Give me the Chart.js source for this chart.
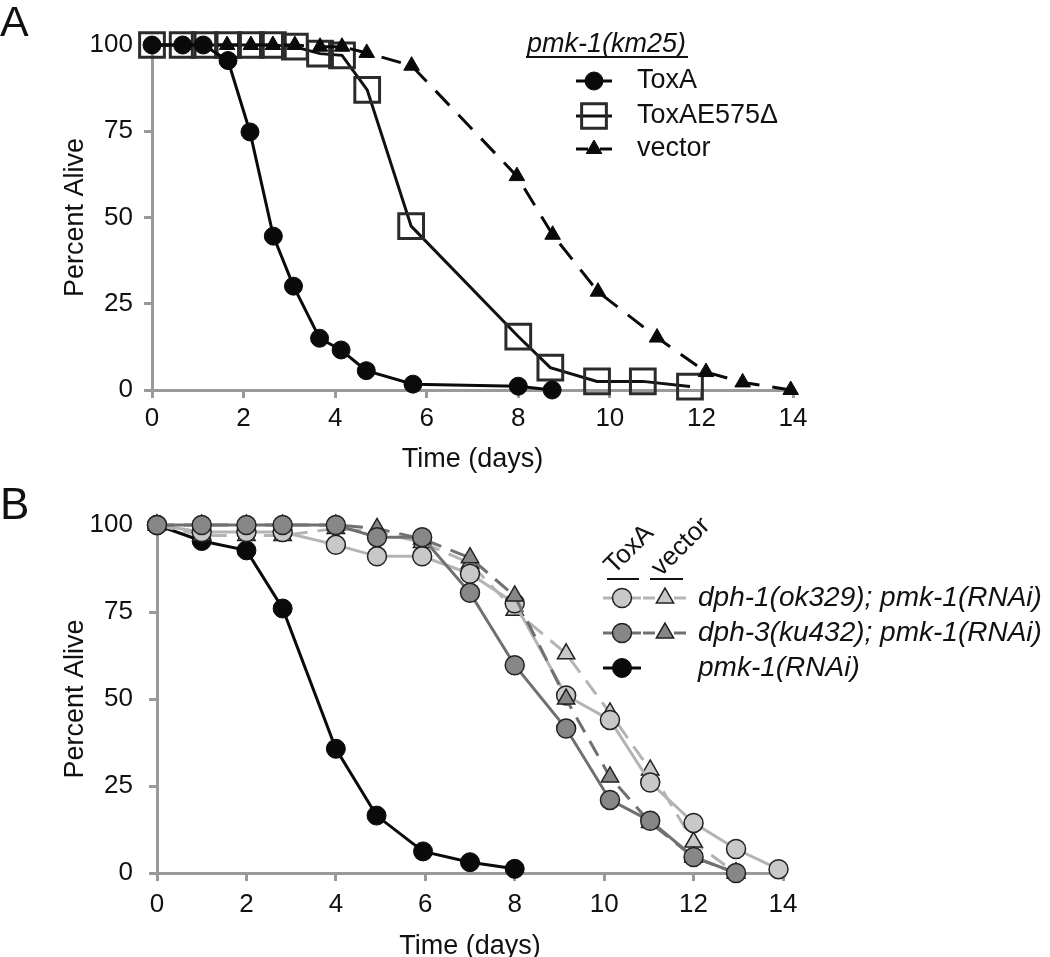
<!DOCTYPE html>
<html>
<head>
<meta charset="utf-8">
<script src="https://cdn.jsdelivr.net/npm/chart.js@4.4.1/dist/chart.umd.min.js"></script>
<style>
  body { margin: 0; background: #fff; }
  .panel { position: relative; width: 1050px; }
  canvas { display: block; }
</style>
</head>
<body>
<div class="panel"><canvas id="chartA" width="1050" height="478"></canvas></div>
<div class="panel"><canvas id="chartB" width="1050" height="479"></canvas></div>
<script>
// ---- panel A : pmk-1(km25) ----
const daysToxA = [0, 0.67, 1.12, 1.66, 2.14, 2.65, 3.09, 3.66, 4.13, 4.68, 5.7, 8.0, 8.74];
const aliveToxA = [100, 100, 100, 95.5, 74.8, 44.6, 30.1, 15, 11.6, 5.6, 1.7, 1.1, 0];
const daysToxAE575 = [0, 0.67, 1.15, 1.66, 2.16, 2.64, 3.12, 3.67, 4.15, 4.7, 5.66, 8.0, 8.7, 9.72, 10.72, 11.75];
const aliveToxAE575 = [100, 100, 100, 100, 100, 100, 99.5, 97.5, 97, 87, 47.5, 15.5, 6.5, 2.5, 2.5, 1];
const daysVectorA = [0, 0.67, 1.15, 1.64, 2.16, 2.64, 3.12, 3.67, 4.15, 4.69, 5.67, 7.97, 8.75, 9.74, 11.03, 12.1, 12.9, 13.95];
const aliveVectorA = [100, 100, 100, 100, 100, 100, 100, 99.5, 99.5, 97.7, 94, 62, 45, 28.5, 15.2, 5.2, 2.2, 0];

// ---- panel B : RNAi ----
const daysB = [0, 1, 2, 2.81, 4, 4.92, 5.93, 7, 8, 9.15, 10.13, 11.03, 12, 12.95, 13.9];
const dph1ToxA = [100, 98, 98, 98, 94.3, 91, 91, 86, 77.5, 51, 44, 26, 14.4, 6.9, 1.1];
const dph1Vector = [100, 97, 97, 97, 99, 98, 95, 89, 75.5, 63, 46, 29.6, 8.9, 0];
const dph3ToxA = [100, 100, 100, 100, 100, 96.5, 96.5, 80.5, 59.7, 41.5, 21, 15, 4.6, 0];
const dph3Vector = [100, 100, 100, 100, 100, 99, 96, 90.6, 79.6, 50, 27.6, 14.5, 4.5, 0];
const daysPmk = [0, 1, 2, 2.81, 4, 4.91, 5.95, 7, 8];
const pmk1RNAi = [100, 95.4, 92.7, 76, 35.7, 16.5, 6.2, 3.1, 1.2];

const xTicks = [0, 2, 4, 6, 8, 10, 12, 14];
const yTicks = [0, 25, 50, 75, 100];

const FONT = '"Liberation Sans", Arial, Helvetica, sans-serif';
const AXIS_GREY = '#9a9a9a';
const LIGHT_FILL = '#c8c8c8', LIGHT_LINE = '#b4b4b4';
const DARK_FILL = '#878787', DARK_LINE = '#707070';

function pts(xs, ys) {
    return ys.map((y, i) => ({ x: xs[i], y: y }));
}

function scales(opt) {
    return {
        x: {
            type: 'linear', min: 0, max: 14,
            afterFit: s => { s.height = opt.xHeight; },
            afterBuildTicks: s => { s.ticks = xTicks.map(v => ({ value: v })); },
            border: { display: true, color: AXIS_GREY, width: 3 },
            grid: { drawOnChartArea: false, drawTicks: true, tickLength: 8, color: AXIS_GREY, lineWidth: 3 },
            ticks: { color: '#111', font: { family: FONT, size: 26 }, padding: opt.xPad, maxRotation: 0 },
            title: { display: true, text: 'Time (days)', color: '#111',
                     font: { family: FONT, size: 27, lineHeight: opt.xTitleLH }, padding: { top: 0, bottom: opt.xTitlePad } }
        },
        y: {
            type: 'linear', min: 0, max: 100,
            afterFit: s => { s.width = opt.yWidth; },
            afterBuildTicks: s => { s.ticks = yTicks.map(v => ({ value: v })); },
            border: { display: true, color: AXIS_GREY, width: 3 },
            grid: { drawOnChartArea: false, drawTicks: true, tickLength: 8, color: AXIS_GREY, lineWidth: 3 },
            ticks: { color: '#111', font: { family: FONT, size: 26 }, padding: opt.yPad },
            title: { display: true, text: 'Percent Alive', color: '#111',
                     font: { family: FONT, size: 27, lineHeight: 1.2 }, padding: { top: 59, bottom: 0 } }
        }
    };
}

function legendRow(ctx, ds, x0, x1, cx, y) {
    ctx.save();
    ctx.strokeStyle = ds.borderColor;
    ctx.lineWidth = ds.borderWidth;
    ctx.beginPath();
    if (ds.borderDash && ds.borderDash.length) {
        ctx.moveTo(x0, y); ctx.lineTo(x0 + 12, y);
        ctx.moveTo(x1 - 12, y); ctx.lineTo(x1, y);
    } else {
        ctx.moveTo(x0, y); ctx.lineTo(x1, y);
    }
    ctx.stroke();
    ctx.fillStyle = ds.pointBackgroundColor;
    ctx.strokeStyle = ds.pointBorderColor;
    ctx.lineWidth = ds.pointBorderWidth;
    Chart.helpers.drawPoint(ctx, { pointStyle: ds.pointStyle, radius: ds.pointRadius, borderWidth: ds.pointBorderWidth, rotation: 0 }, cx, y);
    ctx.restore();
}

const legendAPlugin = {
    id: 'legendA',
    afterDraw(chart) {
        const ctx = chart.ctx;
        const ds = chart.data.datasets;
        ctx.save();
        ctx.fillStyle = '#111';
        ctx.font = '43px ' + FONT;
        ctx.textBaseline = 'alphabetic';
        ctx.fillText('A', 0, 36);

        ctx.font = 'italic 27px ' + FONT;
        ctx.fillText('pmk-1(km25)', 527, 52);
        ctx.strokeStyle = '#111';
        ctx.lineWidth = 2;
        ctx.beginPath(); ctx.moveTo(526, 57); ctx.lineTo(688, 57); ctx.stroke();

        const rows = [[ds[0], 81], [ds[2], 116], [ds[1], 149]];
        ctx.font = '27px ' + FONT;
        ctx.textBaseline = 'middle';
        rows.forEach(([d, y]) => {
            legendRow(ctx, d, 576, 612, 594, y);
            ctx.fillStyle = '#111';
            ctx.fillText(d.label, 637, y);
        });
        ctx.restore();
    }
};

const legendBPlugin = {
    id: 'legendB',
    afterDraw(chart) {
        const ctx = chart.ctx;
        const ds = chart.data.datasets;
        ctx.save();
        ctx.fillStyle = '#111';
        ctx.font = '44px ' + FONT;
        ctx.textBaseline = 'alphabetic';
        ctx.fillText('B', 0, 41);

        ctx.font = '26px ' + FONT;
        [['ToxA', 614, 97], ['vector', 661, 99]].forEach(([t, x, y]) => {
            ctx.save();
            ctx.translate(x, y);
            ctx.rotate(-Math.PI / 4);
            ctx.fillText(t, 0, 0);
            ctx.restore();
        });
        ctx.strokeStyle = '#111';
        ctx.lineWidth = 2;
        ctx.beginPath();
        ctx.moveTo(607, 101); ctx.lineTo(639, 101);
        ctx.moveTo(650, 101); ctx.lineTo(683, 101);
        ctx.stroke();

        // ds order: 0 dph3 ToxA, 1 dph3 vector, 2 dph1 ToxA, 3 dph1 vector, 4 pmk
        legendRow(ctx, ds[2], 603, 641, 622, 120);
        legendRow(ctx, ds[3], 643, 686, 665, 120);
        legendRow(ctx, ds[0], 603, 641, 622, 155);
        legendRow(ctx, ds[1], 643, 686, 665, 155);
        legendRow(ctx, ds[4], 603, 641, 622, 190);

        ctx.font = 'italic 28px ' + FONT;
        ctx.textBaseline = 'middle';
        ctx.fillStyle = '#111';
        ctx.fillText('dph-1(ok329); pmk-1(RNAi)', 698, 120);
        ctx.fillText('dph-3(ku432); pmk-1(RNAi)', 698, 155);
        ctx.fillText('pmk-1(RNAi)', 698, 190);
        ctx.restore();
    }
};

const common = {
    responsive: false,
    animation: false,
    events: [],
    plugins: { legend: { display: false }, tooltip: { enabled: false } }
};

new Chart(document.getElementById('chartA'), {
    type: 'line',
    data: {
        datasets: [
            { label: 'ToxA', data: pts(daysToxA, aliveToxA), borderColor: '#0a0a0a', borderWidth: 3,
              pointStyle: 'circle', pointRadius: 9, pointBackgroundColor: '#0a0a0a', pointBorderColor: '#0a0a0a',
              pointBorderWidth: 1, tension: 0, clip: false },
            { label: 'vector', data: pts(daysVectorA, aliveVectorA), borderColor: '#0a0a0a', borderWidth: 3,
              borderDash: [20, 13], pointStyle: 'triangle', pointRadius: 9, pointBackgroundColor: '#0a0a0a',
              pointBorderColor: '#0a0a0a', pointBorderWidth: 1, tension: 0, clip: false },
            { label: 'ToxAE575\u0394', data: pts(daysToxAE575, aliveToxAE575), borderColor: '#111', borderWidth: 3,
              pointStyle: 'rect', pointRadius: 17.5, pointBackgroundColor: 'rgba(0,0,0,0)', pointBorderColor: '#2b2b2b',
              pointBorderWidth: 3, tension: 0, clip: false }
        ]
    },
    options: Object.assign({}, common, {
        layout: { padding: { left: 0, top: 45, right: 257, bottom: 0 } },
        scales: scales({ xHeight: 88, yWidth: 152, xPad: 5, yPad: 11, xTitleLH: 1.2, xTitlePad: 2 })
    }),
    plugins: [legendAPlugin]
});

new Chart(document.getElementById('chartB'), {
    type: 'line',
    data: {
        datasets: [
            { label: 'dph-3 ToxA', data: pts(daysB, dph3ToxA), borderColor: DARK_LINE, borderWidth: 3,
              pointStyle: 'circle', pointRadius: 9.5, pointBackgroundColor: DARK_FILL, pointBorderColor: '#222',
              pointBorderWidth: 1.5, tension: 0, clip: false },
            { label: 'dph-3 vector', data: pts(daysB, dph3Vector), borderColor: DARK_LINE, borderWidth: 3,
              borderDash: [17, 10], pointStyle: 'triangle', pointRadius: 10, pointBackgroundColor: DARK_FILL,
              pointBorderColor: '#222', pointBorderWidth: 1.5, tension: 0, clip: false },
            { label: 'dph-1 ToxA', data: pts(daysB, dph1ToxA), borderColor: LIGHT_LINE, borderWidth: 3,
              pointStyle: 'circle', pointRadius: 9.5, pointBackgroundColor: LIGHT_FILL, pointBorderColor: '#222',
              pointBorderWidth: 1.5, tension: 0, clip: false },
            { label: 'dph-1 vector', data: pts(daysB, dph1Vector), borderColor: LIGHT_LINE, borderWidth: 3,
              borderDash: [17, 10], pointStyle: 'triangle', pointRadius: 10, pointBackgroundColor: LIGHT_FILL,
              pointBorderColor: '#222', pointBorderWidth: 1.5, tension: 0, clip: false },
            { label: 'pmk-1(RNAi)', data: pts(daysPmk, pmk1RNAi), borderColor: '#0a0a0a', borderWidth: 3,
              pointStyle: 'circle', pointRadius: 9.5, pointBackgroundColor: '#0a0a0a', pointBorderColor: '#0a0a0a',
              pointBorderWidth: 1, tension: 0, clip: false }
        ]
    },
    options: Object.assign({}, common, {
        layout: { padding: { left: 0, top: 47, right: 267, bottom: 0 } },
        scales: scales({ xHeight: 84, yWidth: 157, xPad: 8, yPad: 16, xTitleLH: 0.8, xTitlePad: 0 })
    }),
    plugins: [legendBPlugin]
});
</script>
</body>
</html>
